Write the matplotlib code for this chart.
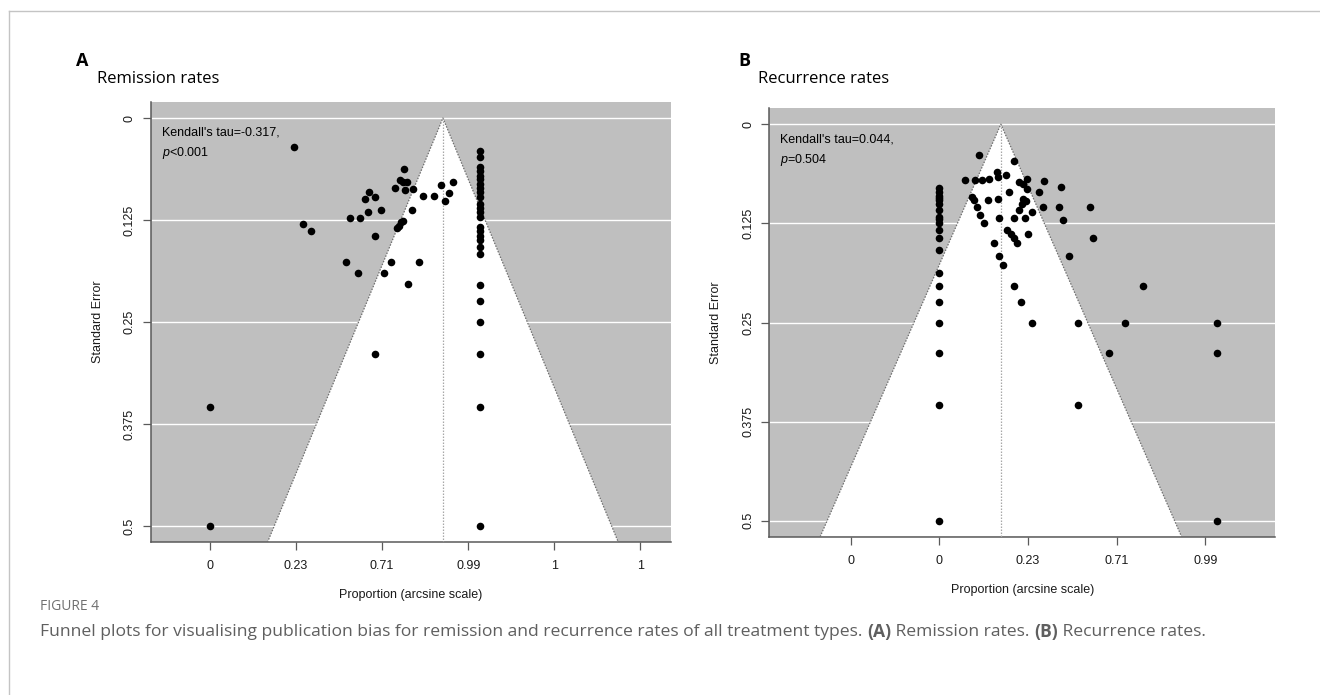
import matplotlib

matplotlib.use("Agg")
import matplotlib.pyplot as plt

# ---- data: arcsine-transformed proportions and their standard errors ----
REMISSION_X = [
    0.488, 0.542, 0.589, 0.815, 0.873, 0.920, 0.902, 0.922, 0.957, 0.992,
    0.957, 0.788, 0.858, 1.050, 1.009, 1.212, 1.152, 1.129, 1.102, 1.119,
    1.144, 1.073, 1.131, 1.179, 1.239, 1.301, 1.340, 1.414, 1.390, 1.367,
    1.175, 1.123, 1.110, 1.096, 1.086, 0.957, 0.0, 0.0,
    1.570, 1.570, 1.570, 1.570, 1.570, 1.570, 1.570, 1.570, 1.570, 1.570,
    1.570, 1.570, 1.570, 1.570, 1.570, 1.570, 1.570, 1.570, 1.570, 1.570,
    1.570, 1.570, 1.570, 1.570, 1.570, 1.570,
]
REMISSION_SE = [
    0.036, 0.130, 0.139, 0.122, 0.122, 0.115, 0.099, 0.091, 0.097, 0.113,
    0.145, 0.177, 0.190, 0.177, 0.190, 0.177, 0.204, 0.063, 0.076, 0.079,
    0.079, 0.086, 0.088, 0.087, 0.095, 0.095, 0.082, 0.079, 0.092, 0.102,
    0.113, 0.126, 0.128, 0.132, 0.135, 0.289, 0.354, 0.500,
    0.040, 0.048, 0.060, 0.065, 0.071, 0.075, 0.081, 0.086, 0.091, 0.097,
    0.105, 0.110, 0.115, 0.121, 0.134, 0.139, 0.145, 0.150, 0.158, 0.167,
    0.205, 0.224, 0.250, 0.289, 0.354, 0.500,
]
REMISSION_POOLED = 1.353
REMISSION_TAU = "Kendall's tau=-0.317,"
REMISSION_P = "$p$<0.001"

RECURRENCE_X = [
    0.224, 0.423, 0.143, 0.200, 0.241, 0.278, 0.325, 0.329, 0.374, 0.449,
    0.494, 0.474, 0.492, 0.592, 0.685, 0.564, 0.395, 0.184, 0.194, 0.276,
    0.331, 0.474, 0.487, 0.464, 0.211, 0.583, 0.677, 0.850, 0.449, 0.523,
    0.231, 0.338, 0.421, 0.481, 0.696, 0.254, 0.384, 0.403, 0.421, 0.438,
    0.500, 0.867, 0.307, 0.338, 0.361, 0.730, 0.421, 1.150, 0.463, 0.523,
    0.784, 1.045, 1.568, 0.955, 1.568, 0.784, 1.568,
    0.0, 0.0, 0.0, 0.0, 0.0, 0.0, 0.0, 0.0, 0.0, 0.0,
    0.0, 0.0, 0.0, 0.0, 0.0, 0.0, 0.0, 0.0, 0.0, 0.0,
]
RECURRENCE_SE = [
    0.039, 0.047, 0.071, 0.071, 0.070, 0.069, 0.060, 0.066, 0.064, 0.073,
    0.069, 0.076, 0.082, 0.072, 0.079, 0.085, 0.086, 0.092, 0.096, 0.096,
    0.094, 0.094, 0.097, 0.100, 0.104, 0.104, 0.104, 0.104, 0.108, 0.111,
    0.115, 0.118, 0.118, 0.118, 0.121, 0.125, 0.133, 0.138, 0.143, 0.150,
    0.139, 0.144, 0.150, 0.166, 0.177, 0.166, 0.204, 0.204, 0.224, 0.250,
    0.250, 0.250, 0.250, 0.289, 0.289, 0.354, 0.500,
    0.081, 0.085, 0.090, 0.093, 0.096, 0.100, 0.108, 0.117, 0.120, 0.125,
    0.134, 0.144, 0.158, 0.188, 0.204, 0.224, 0.250, 0.289, 0.354, 0.500,
]
RECURRENCE_POOLED = 0.347
RECURRENCE_TAU = "Kendall's tau=0.044,"
RECURRENCE_P = "$p$=0.504"

SE_TICKS = [0, 0.125, 0.25, 0.375, 0.5]
SE_LABELS = ["0", "0.125", "0.25", "0.375", "0.5"]
REMISSION_XTICKS = [0, 0.5, 1.0, 1.5, 2.0, 2.5]
REMISSION_XLABELS = ["0", "0.23", "0.71", "0.99", "1", "1"]
RECURRENCE_XTICKS = [-0.5, 0, 0.5, 1.0, 1.5]
RECURRENCE_XLABELS = ["0", "0", "0.23", "0.71", "0.99"]

CAPTION_PARTS = [
    ("Funnel plots for visualising publication bias for remission and recurrence rates of all treatment types. ", "normal"),
    ("(A)", "bold"),
    (" Remission rates. ", "normal"),
    ("(B)", "bold"),
    (" Recurrence rates.", "normal"),
]

W, H = 1320, 695
SHADE = "#bfbfbf"
AXIS_GREY = "#5a5a5a"
R_FONT = "Liberation Sans"
HEAD_FONT = "Open Sans"
R_SIZE = 9.0

plt.rcParams.update(
    {
        "font.family": [R_FONT, "DejaVu Sans"],
        "mathtext.fontset": "custom",
        "mathtext.it": "Liberation Sans:italic",
        "mathtext.rm": "Liberation Sans",
    }
)


def px_rect(left, top, right, bottom):
    return [left / W, 1 - bottom / H, (right - left) / W, (bottom - top) / H]


def funnel_panel(fig, rect, xs, ses, pooled, xlim, xticks, xlabels, tau, ptext):
    ax = fig.add_axes(rect)
    ax.set_facecolor(SHADE)
    ax.set_xlim(*xlim)
    ax.set_ylim(0.52, -0.02)
    se_max = 0.52

    for t in SE_TICKS:
        ax.axhline(t, color="white", lw=1.0, zorder=1)
    ax.fill(
        [pooled - 1.96 * se_max, pooled, pooled + 1.96 * se_max],
        [se_max, 0, se_max],
        color="white",
        lw=0,
        zorder=2,
    )
    ax.plot(
        [pooled - 1.96 * se_max, pooled, pooled + 1.96 * se_max],
        [se_max, 0, se_max],
        color="#6e6e6e",
        lw=0.9,
        ls=(0, (1.2, 1.2)),
        zorder=3,
    )
    ax.plot([pooled, pooled], [0, se_max], color="#a8a8a8", lw=0.9, ls=(0, (1.2, 1.2)), zorder=3)
    ax.scatter(xs, ses, s=30, color="black", lw=0, zorder=4, clip_on=False)

    for side in ("top", "right"):
        ax.spines[side].set_visible(False)
    for side in ("left", "bottom"):
        ax.spines[side].set_color(AXIS_GREY)
        ax.spines[side].set_linewidth(1.1)

    ax.set_xticks(xticks)
    ax.set_xticklabels(xlabels)
    ax.set_yticks(SE_TICKS)
    ax.set_yticklabels(SE_LABELS, rotation=90, va="center")
    ax.tick_params(axis="both", length=5.5, width=0.9, color=AXIS_GREY, labelsize=R_SIZE, labelcolor="#1a1a1a")
    ax.tick_params(axis="x", pad=7.5)
    ax.tick_params(axis="y", pad=5.5)

    wpx = rect[2] * W
    hpx = rect[3] * H
    ax.set_ylabel("Standard Error", fontsize=R_SIZE, color="#1a1a1a")
    ax.yaxis.set_label_coords(-47 / wpx, 0.5)
    ax.set_xlabel("Proportion (arcsine scale)", fontsize=R_SIZE, color="#1a1a1a")
    ax.xaxis.set_label_coords(0.5, -47 / hpx)

    ax.annotate(tau, xy=(0, 1), xycoords="axes fraction", xytext=(8, -18),
                textcoords="offset points", ha="left", va="top", fontsize=R_SIZE, zorder=5)
    ax.annotate(ptext, xy=(0, 1), xycoords="axes fraction", xytext=(8, -31.5),
                textcoords="offset points", ha="left", va="top", fontsize=R_SIZE, zorder=5)
    return ax


def caption(fig, x, y, parts, size, color):
    renderer = fig.canvas.get_renderer()
    cursor = x
    for text, weight in parts:
        t = fig.text(cursor / W, 1 - y / H, text, fontsize=size, fontweight=weight,
                     family=HEAD_FONT, color=color, ha="left", va="center")
        cursor += t.get_window_extent(renderer).width


def main():
    fig = plt.figure(figsize=(W / 100, H / 100), dpi=100)

    # frame lines on the left and top of the figure
    fig.add_artist(plt.Line2D([9 / W, 9 / W], [0, 1 - 11 / H], color="#c4c4c4", lw=1.0))
    fig.add_artist(plt.Line2D([9 / W, 1], [1 - 11 / H, 1 - 11 / H], color="#c4c4c4", lw=1.0))

    funnel_panel(fig, px_rect(151, 101.7, 671, 542.3), REMISSION_X, REMISSION_SE,
                 REMISSION_POOLED, (-0.343, 2.678), REMISSION_XTICKS, REMISSION_XLABELS,
                 REMISSION_TAU, REMISSION_P)
    funnel_panel(fig, px_rect(769.3, 108.3, 1275, 536.7), RECURRENCE_X, RECURRENCE_SE,
                 RECURRENCE_POOLED, (-0.959, 1.893), RECURRENCE_XTICKS, RECURRENCE_XLABELS,
                 RECURRENCE_TAU, RECURRENCE_P)

    fig.text(82.5 / W, 1 - 61.5 / H, "A", fontsize=13, fontweight="bold", family=HEAD_FONT,
             ha="center", va="center")
    fig.text(97 / W, 1 - 79 / H, "Remission rates", fontsize=12, family=HEAD_FONT,
             ha="left", va="center")
    fig.text(744 / W, 1 - 61.5 / H, "B", fontsize=13, fontweight="bold", family=HEAD_FONT,
             ha="center", va="center")
    fig.text(758 / W, 1 - 79 / H, "Recurrence rates", fontsize=12, family=HEAD_FONT,
             ha="left", va="center")

    fig.text(40 / W, 1 - 607 / H, "FIGURE 4", fontsize=10, family=HEAD_FONT, color="#707070",
             ha="left", va="center")
    caption(fig, 40, 632, CAPTION_PARTS, 12.6, "#5f5f5f")

    fig.savefig("out.png", dpi=100, facecolor="white")
    plt.close(fig)


if __name__ == "__main__":
    main()
